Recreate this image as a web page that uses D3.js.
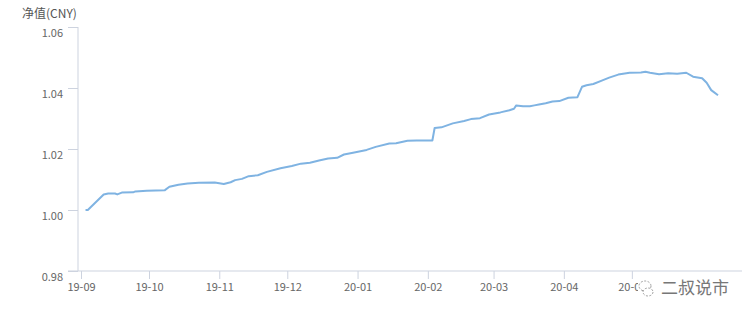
<!DOCTYPE html>
<html lang="zh">
<head>
<meta charset="UTF-8">
<title>净值(CNY)</title>
<script src="https://cdn.jsdelivr.net/npm/d3@7/dist/d3.min.js"></script>
<style>
    body { margin: 0; background: #fff; }
    text { font-family: "Noto Sans CJK SC", "Open Sans", sans-serif; }
    .tick text { fill: #666; font-size: 11px; }
</style>
</head>
<body>
<script>
// NAV series
const dates = [
    "2019-09-03","2019-09-04","2019-09-11","2019-09-13","2019-09-16","2019-09-17","2019-09-19","2019-09-24","2019-09-25","2019-09-30",
    "2019-10-08","2019-10-10","2019-10-14","2019-10-18","2019-10-23","2019-10-30",
    "2019-11-03","2019-11-06","2019-11-08","2019-11-11","2019-11-14","2019-11-18","2019-11-22","2019-11-28",
    "2019-12-03","2019-12-07","2019-12-11","2019-12-15","2019-12-19","2019-12-23","2019-12-26","2019-12-30",
    "2020-01-05","2020-01-09","2020-01-15","2020-01-18","2020-01-23","2020-01-27",
    "2020-02-03","2020-02-04","2020-02-07","2020-02-12","2020-02-17","2020-02-20","2020-02-24","2020-02-28",
    "2020-03-04","2020-03-08","2020-03-10","2020-03-11","2020-03-14","2020-03-17","2020-03-19","2020-03-21","2020-03-24","2020-03-27","2020-03-30",
    "2020-04-03","2020-04-07","2020-04-09","2020-04-11","2020-04-14","2020-04-18","2020-04-21","2020-04-25","2020-04-30",
    "2020-05-05","2020-05-07","2020-05-09","2020-05-13","2020-05-17","2020-05-21","2020-05-25","2020-05-28",
    "2020-06-01","2020-06-03","2020-06-05","2020-06-08"
];
const nav = [
    1.0000,1.0000,1.0051,1.0054,1.0054,1.0051,1.0057,1.0058,1.0061,1.0063,
    1.0065,1.0076,1.0083,1.0087,1.0089,1.0090,
    1.0085,1.0091,1.0098,1.0102,1.0111,1.0114,1.0125,1.0137,
    1.0144,1.0152,1.0155,1.0162,1.0169,1.0171,1.0182,1.0188,
    1.0197,1.0207,1.0218,1.0219,1.0227,1.0228,
    1.0228,1.0269,1.0271,1.0284,1.0292,1.0298,1.0301,1.0313,
    1.0320,1.0327,1.0332,1.0343,1.0340,1.0340,1.0343,1.0346,1.0350,1.0356,1.0357,
    1.0368,1.0370,1.0404,1.0409,1.0413,1.0425,1.0434,1.0444,1.0450,
    1.0451,1.0453,1.0450,1.0445,1.0448,1.0447,1.0450,1.0437,
    1.0432,1.0417,1.0393,1.0376
];
const yTicks = [0.98, 1.00, 1.02, 1.04, 1.06];
const xTicks = ["2019-09-01","2019-10-01","2019-11-01","2019-12-01","2020-01-01",
    "2020-02-01","2020-03-01","2020-04-01","2020-05-01"];
const yTitle = "净值(CNY)";
const watermark = "二叔说市";

const width = 756, height = 316;
const parse = d3.utcParse("%Y-%m-%d");
const data = dates.map((d, i) => ({ date: parse(d), value: nav[i] }));

const svg = d3.select("body").append("svg")
    .attr("width", width)
    .attr("height", height);

const x = d3.scaleUtc()
    .domain([parse("2019-09-01"), parse("2020-06-08")])
    .range([81, 718]);
const y = d3.scaleLinear()
    .domain([0.98, 1.06])
    .range([271, 27]);

const axisColor = "#cdd3df";

// y axis
const gy = svg.append("g")
    .attr("transform", "translate(78,0)")
    .call(d3.axisLeft(y).tickValues(yTicks).tickFormat(d3.format(".2f")).tickSize(10).tickPadding(5));
gy.select(".domain").remove();
gy.selectAll(".tick line").attr("stroke", axisColor);
gy.selectAll(".tick text").attr("dy", "0.9em");

svg.append("line")
    .attr("x1", 78).attr("x2", 78)
    .attr("y1", 27).attr("y2", 271)
    .attr("stroke", axisColor);

// x axis
const gx = svg.append("g")
    .attr("transform", "translate(0,271)")
    .call(d3.axisBottom(x).tickValues(xTicks.map(parse)).tickFormat(d3.utcFormat("%y-%m")).tickSize(8).tickPadding(4));
gx.select(".domain").remove();
gx.selectAll(".tick line").attr("stroke", axisColor);

svg.append("line")
    .attr("x1", 68).attr("x2", 742)
    .attr("y1", 271).attr("y2", 271)
    .attr("stroke", axisColor);

// title
svg.append("text")
    .attr("x", 22).attr("y", 18)
    .attr("font-size", 12)
    .attr("fill", "#555")
    .text(yTitle);

// line
const line = d3.line()
    .x(d => x(d.date))
    .y(d => y(d.value));

svg.append("path")
    .datum(data)
    .attr("fill", "none")
    .attr("stroke", "#7fb3e2")
    .attr("stroke-width", 2)
    .attr("stroke-linejoin", "round")
    .attr("d", line);

// watermark
const wm = svg.append("g").attr("transform", "translate(645,288)");
wm.append("rect").attr("x", -7).attr("y", -9).attr("width", 16).attr("height", 19).attr("fill", "#fff");
wm.append("ellipse").attr("cx", 0).attr("cy", -2).attr("rx", 6).attr("ry", 5)
    .attr("fill", "none").attr("stroke", "#888").attr("stroke-width", 0.8).attr("stroke-dasharray", "2,1.5");
wm.append("ellipse").attr("cx", 3).attr("cy", 4).attr("rx", 5).attr("ry", 4)
    .attr("fill", "#fff").attr("stroke", "#888").attr("stroke-width", 0.8).attr("stroke-dasharray", "2,1.5");
svg.append("text")
    .attr("x", 661).attr("y", 294)
    .attr("font-size", 17)
    .attr("fill", "#777")
    .text(watermark);
</script>
</body>
</html>
